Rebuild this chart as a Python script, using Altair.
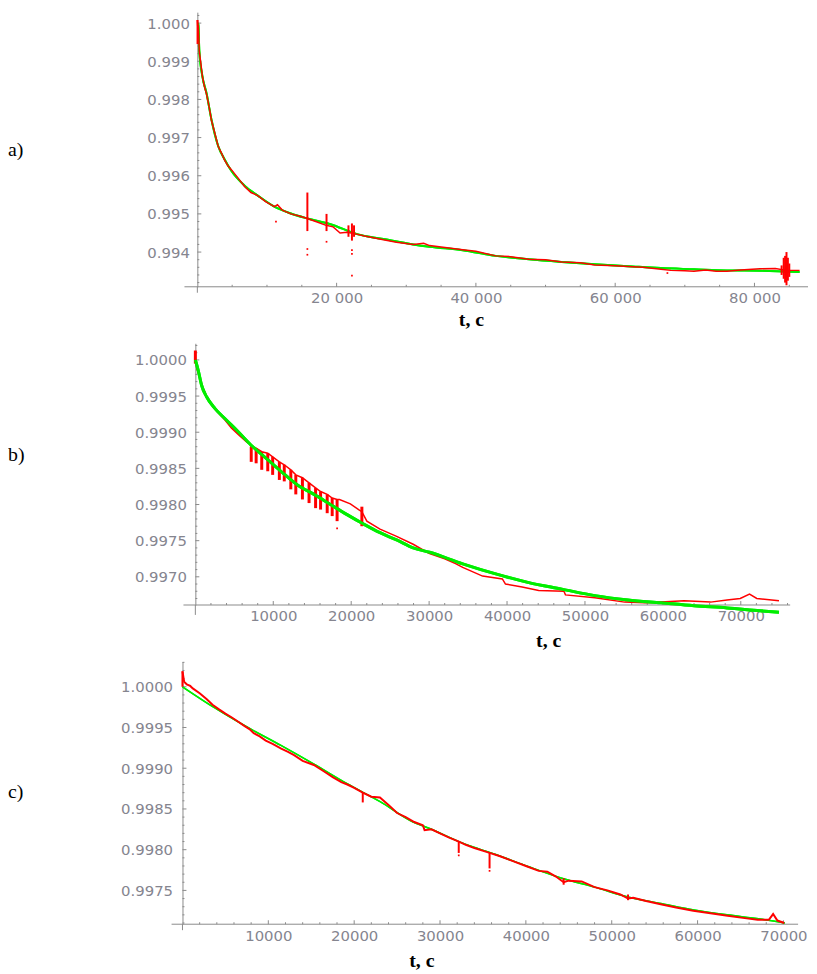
import altair as alt
import pandas as pd

# ------------------------------------------------------------------ panel a)
a_green_t = [0, 140, 285, 710, 1320, 2040, 2990, 3940, 4880, 6780, 8680, 11060, 13430, 15800,
             19120, 22920, 26720, 30990, 33350, 38100, 42850, 47590, 52340, 57080, 61830,
             66570, 71320, 76060, 80800, 86480]
a_green_v = [1.00000, 0.99997, 0.99928, 0.99862, 0.99816, 0.99746, 0.99678, 0.99642, 0.99613,
             0.99574, 0.99548, 0.99519, 0.99501, 0.99488, 0.99473, 0.99447, 0.99434, 0.99420,
             0.99414, 0.99405, 0.99390, 0.99381, 0.99374, 0.99368, 0.99363, 0.99358, 0.99355,
             0.99352, 0.99351, 0.99348]
a_red_t = [0, 60, 140, 280, 500, 710, 1000, 1320, 1700, 2040, 2500, 2990, 3500, 3940, 4400, 4880,
           5800, 6780, 7700, 8680, 9800, 11060, 11500, 12200, 13430, 14500, 15800, 17000, 18500,
           19500, 20500, 21500, 22900, 24000, 26720, 28600, 31000, 32500, 33350, 35000, 38100,
           40000, 42850, 45000, 47590, 50000, 52340, 55000, 57080, 60000, 61830, 64000, 66570,
           68000, 70000, 71320, 73000, 74500, 76060, 78000, 80800, 83000, 84600, 86480]
a_red_v = [1.00008, 0.99990, 0.99995, 0.99925, 0.99895, 0.99862, 0.99835, 0.99814, 0.99780,
           0.99744, 0.99712, 0.99677, 0.99658, 0.99640, 0.99626, 0.99616, 0.99595, 0.99572,
           0.99556, 0.99548, 0.99532, 0.99519, 0.99524, 0.99510, 0.99500, 0.99495, 0.99488,
           0.99480, 0.99470, 0.99466, 0.99450, 0.99452, 0.99447, 0.99442, 0.99432, 0.99426,
           0.99420, 0.99423, 0.99417, 0.99413, 0.99406, 0.99402, 0.99390, 0.99388, 0.99381,
           0.99380, 0.99374, 0.99372, 0.99366, 0.99364, 0.99362, 0.99360, 0.99355, 0.99352,
           0.99351, 0.99350, 0.99353, 0.99350, 0.99350, 0.99353, 0.99356, 0.99357, 0.99352,
           0.99352]
a_spike_t = [30, 15800, 18550, 21700, 22200, 22500, 83900, 84200, 84400, 84600, 84800, 85000]
a_spike_hi = [1.00008, 0.99556, 0.99500, 0.99470, 0.99475, 0.99470, 0.99365, 0.99385, 0.99390,
              0.99400, 0.99385, 0.99370]
a_spike_lo = [0.99945, 0.99455, 0.99455, 0.99440, 0.99430, 0.99440, 0.99340, 0.99330, 0.99320,
              0.99313, 0.99325, 0.99335]
a_dot_t = [11290, 15800, 15800, 18550, 22200, 22200, 22200, 67500]
a_dot_v = [0.99480, 0.99408, 0.99393, 0.99427, 0.99405, 0.99395, 0.99338, 0.99345]

# ------------------------------------------------------------------ panel b)
b_green_t = [0, 380, 800, 1440, 2500, 3780, 5470, 7160, 8870, 10980, 13100, 15230, 17340,
             19470, 21590, 23700, 25830, 27950, 30060, 34310, 38550, 42790, 47030, 51270,
             55510, 59760, 64000, 68230, 72480, 74900]
b_green_v = [1.00000, 0.99985, 0.99965, 0.99949, 0.99933, 0.99919, 0.99901, 0.99882, 0.99866,
             0.99846, 0.99827, 0.99814, 0.99800, 0.99786, 0.99773, 0.99761, 0.99751, 0.99740,
             0.99734, 0.99718, 0.99704, 0.99692, 0.99683, 0.99674, 0.99668, 0.99664, 0.99660,
             0.99657, 0.99653, 0.99651]
b_red_t = [0, 200, 500, 900, 1500, 2500, 3800, 4620, 5500, 6530, 7000,
           7170, 7800, 8520, 9290, 9920, 10780, 11410, 12250, 12890, 13740, 14590, 15430,
           16070, 16920, 17560, 18190,
           18500, 19890, 20950, 21370, 22010, 23700, 25830, 27950, 30060, 32000, 33460, 34310,
           36860, 39400, 39800, 41940, 44060, 47300, 47500, 51270, 55090, 57630, 59760, 62720,
           66120, 68230, 69930, 71120, 72050, 74900]
b_red_v = [1.00002, 0.99988, 0.99978, 0.99963, 0.99948, 0.99932, 0.99917, 0.99906, 0.99897,
           0.99887, 0.99884,
           0.99880, 0.99878, 0.99873, 0.99871, 0.99866, 0.99859, 0.99855, 0.99848, 0.99841,
           0.99837, 0.99830, 0.99823, 0.99818, 0.99814, 0.99809, 0.99807,
           0.99807, 0.99801, 0.99793, 0.99790, 0.99777, 0.99766, 0.99756, 0.99745, 0.99732,
           0.99725, 0.99718, 0.99713, 0.99701, 0.99697, 0.99690, 0.99686, 0.99681, 0.99680,
           0.99675, 0.99671, 0.99665, 0.99664, 0.99665, 0.99667, 0.99665, 0.99668, 0.99670,
           0.99676, 0.99670, 0.99667]
b_spike_t = [0, 7170, 7800, 8520, 9290, 9920, 10780, 11410, 12250, 12890, 13740, 14590, 15430,
             16070, 16920, 17560, 18190, 21370]
b_spike_hi = [1.00013, 0.99880, 0.99878, 0.99873, 0.99871, 0.99866, 0.99859, 0.99855, 0.99848,
              0.99841, 0.99837, 0.99830, 0.99823, 0.99818, 0.99814, 0.99809, 0.99807, 0.99797]
b_spike_lo = [0.99995, 0.99859, 0.99857, 0.99848, 0.99846, 0.99841, 0.99834, 0.99832, 0.99821,
              0.99814, 0.99807, 0.99802, 0.99795, 0.99793, 0.99788, 0.99784, 0.99777, 0.99770]
b_dot_t = [18190]
b_dot_v = [0.99767]

# ------------------------------------------------------------------ panel c)
c_green_t = [0, 3770, 7620, 11470, 15320, 19170, 23020, 26870, 28790, 32640, 36490, 40330,
             44180, 48040, 51880, 55730, 59580, 63430, 67280, 70170]
c_green_v = [1.00000, 0.99974, 0.99950, 0.99928, 0.99905, 0.99881, 0.99859, 0.99834, 0.99826,
             0.99808, 0.99794, 0.99779, 0.99765, 0.99754, 0.99742, 0.99734, 0.99726, 0.99720,
             0.99715, 0.99710]
c_red_t = [0, 200, 500, 900, 1200, 2000, 2800, 3500, 4300, 5000, 5800, 6500, 7200, 7800, 8300,
           9000, 9700, 10500, 11500, 12300, 13000, 14000, 15300, 16500, 17500, 18500, 19200,
           20000, 21000, 22000, 23000, 24000, 25000, 26000, 27000, 28000, 28200, 29000, 30000,
           31000, 32200, 33000, 34000, 35500, 37000, 38500, 40000, 41500, 42500, 43500, 44400,
           45000, 46500, 48000, 49500, 51000, 51900, 52500, 54000, 55700, 57500, 59500, 61500,
           63500, 65500, 67000, 68300, 68800, 69300, 70100]
c_red_v = [1.00019, 1.00006, 1.00003, 1.00001, 0.99998, 0.99992, 0.99985, 0.99978, 0.99972,
           0.99967, 0.99962, 0.99957, 0.99952, 0.99948, 0.99943, 0.99939, 0.99934, 0.99930,
           0.99924, 0.99920, 0.99916, 0.99909, 0.99904, 0.99896, 0.99889, 0.99883, 0.99880,
           0.99876, 0.99870, 0.99865, 0.99864, 0.99855, 0.99845, 0.99840, 0.99834, 0.99830,
           0.99824, 0.99825, 0.99820, 0.99815, 0.99810, 0.99806, 0.99802, 0.99797, 0.99792,
           0.99786, 0.99780, 0.99774, 0.99773, 0.99767, 0.99760, 0.99762, 0.99761, 0.99754,
           0.99750, 0.99745, 0.99740, 0.99741, 0.99737, 0.99733, 0.99729, 0.99725, 0.99722,
           0.99719, 0.99716, 0.99714, 0.99714, 0.99721, 0.99713, 0.99710]
c_spike_t = [0, 21000, 32180, 35770, 44400, 51900]
c_spike_hi = [1.00019, 0.99870, 0.99810, 0.99797, 0.99765, 0.99745]
c_spike_lo = [1.00000, 0.99858, 0.99796, 0.99777, 0.99757, 0.99738]
c_dot_t = [32180, 35770]
c_dot_v = [0.99793, 0.99774]

# ------------------------------------------------------------------ axes
a_xticks = [20000, 40000, 60000, 80000]
a_xlabels = ["20 000", "40 000", "60 000", "80 000"]
a_yticks = [0.994, 0.995, 0.996, 0.997, 0.998, 0.999, 1.000]
b_xticks = [10000, 20000, 30000, 40000, 50000, 60000, 70000]
b_xlabels = ["10000", "20000", "30000", "40000", "50000", "60000", "70000"]
b_yticks = [0.9970, 0.9975, 0.9980, 0.9985, 0.9990, 0.9995, 1.0000]
c_xticks = [10000, 20000, 30000, 40000, 50000, 60000, 70000]
c_xlabels = ["10000", "20000", "30000", "40000", "50000", "60000", "70000"]
c_yticks = [0.9975, 0.9980, 0.9985, 0.9990, 0.9995, 1.0000]

AXC = "#8a8a8a"
LABC = "#85858f"
RED = "#ff0000"
GREEN = "#00ee00"


def minor(lo, hi, step, majors):
    out = []
    k = 0
    while lo + k * step <= hi + 1e-12:
        v = round(lo + k * step, 6)
        if all(abs(v - m) > 1e-9 for m in majors):
            out.append(v)
        k += 1
    return out


def panel(label, lab_y, W, H, xdom, ydom, gt, gv, rt, rv, st, shi, slo, dt, dv,
          xticks, xlabels, xminor, yticks, yminor, yfmt, xline, title_x, title_y,
          ylabpad, gw, rw, green_top, below, sw):
    xs = alt.Scale(domain=xdom, nice=False, zero=False)
    ys = alt.Scale(domain=ydom, nice=False, zero=False)
    px0 = W * (0 - xdom[0]) / (xdom[1] - xdom[0])
    expr = " : ".join(f"datum.value == {t} ? '{l}'" for t, l in zip(xticks, xlabels)) + " : ''"
    xaxis = alt.Axis(values=xticks, labelExpr=expr, domain=False, ticks=False, tickSize=0,
                     grid=False, labelPadding=4, labelFont="DejaVu Sans", labelFontSize=15,
                     labelColor=LABC, labelFlush=False, labelOverlap=False,
                     title="t, c", titleFont="Liberation Serif", titleFontSize=20,
                     titleFontWeight="bold", titleColor="black", titleX=title_x,
                     titleY=title_y, titleAlign="center", titleBaseline="middle")
    yaxis = alt.Axis(values=yticks, format=yfmt, domain=True, domainColor=AXC, domainWidth=1,
                     ticks=False, tickSize=0, grid=False, offset=-px0, labelPadding=ylabpad,
                     labelFont="DejaVu Sans", labelFontSize=15, labelColor=LABC,
                     labelFlush=False, labelOverlap=False, title=None)
    X = alt.X("t:Q", scale=xs, axis=xaxis)
    Y = alt.Y("v:Q", scale=ys, axis=yaxis)

    green = alt.Chart(pd.DataFrame({"t": gt, "v": gv})).mark_line(
        color=GREEN, strokeWidth=gw, interpolate="monotone").encode(x=X, y=Y)
    red = alt.Chart(pd.DataFrame({"t": rt, "v": rv})).mark_line(
        color=RED, strokeWidth=rw).encode(x=X, y=Y)
    spikes = alt.Chart(pd.DataFrame({"t": st, "v": shi, "v2": slo})).mark_rule(
        color=RED, strokeWidth=sw).encode(x=X, y=Y, y2="v2:Q")
    dots = alt.Chart(pd.DataFrame({"t": dt, "v": dv})).mark_square(
        color=RED, size=3, opacity=1).encode(x=X, y=Y)

    xline_df = pd.DataFrame({"t": [xline[0]], "t2": [xline[1]]})
    xaxis_line = alt.Chart(xline_df).mark_rule(color=AXC, strokeWidth=1).encode(
        x=X, x2="t2:Q", y=alt.value(H))
    ext = alt.Chart(pd.DataFrame({"k": [0]})).mark_rule(color=AXC, strokeWidth=1).encode(
        x=alt.value(px0), y=alt.value(H), y2=alt.value(H + below))
    xt_major = alt.Chart(pd.DataFrame({"t": xticks})).mark_rule(color=AXC).encode(
        x=X, y=alt.value(H), y2=alt.value(H - 4))
    xt_minor = alt.Chart(pd.DataFrame({"t": xminor})).mark_rule(color=AXC).encode(
        x=X, y=alt.value(H), y2=alt.value(H - 2))
    yt_major = alt.Chart(pd.DataFrame({"v": yticks})).mark_rule(color=AXC).encode(
        y=Y, x=alt.value(px0), x2=alt.value(px0 + 4))
    yt_minor = alt.Chart(pd.DataFrame({"v": yminor})).mark_rule(color=AXC).encode(
        y=Y, x=alt.value(px0), x2=alt.value(px0 + 2))
    lab = alt.Chart(pd.DataFrame({"s": [label]})).mark_text(
        align="left", baseline="middle", font="Liberation Serif", fontSize=20,
        color="black").encode(text="s:N", x=alt.value(-165), y=alt.value(lab_y))

    data_layers = [spikes, dots, red, green] if green_top else [green, spikes, dots, red]
    return alt.layer(green, xaxis_line, ext, xt_major, xt_minor, yt_major, yt_minor,
                     *data_layers, lab).properties(width=W, height=H)


pa = panel("a)", 139, 642, 277, [-3701, 87690], [0.99309, 1.000286],
           a_green_t, a_green_v, a_red_t, a_red_v, a_spike_t, a_spike_hi, a_spike_lo,
           a_dot_t, a_dot_v, a_xticks, a_xlabels, minor(5000, 85000, 5000, a_xticks),
           a_yticks, minor(0.9932, 1.0002, 0.0002, a_yticks), ".3f",
           (-1850, 87690), 302, 33, 8, 2, 1.5, False, 6, 2)
pb = panel("b)", 113, 624, 264, [-3053, 76336], [0.99661, 1.00023],
           b_green_t, b_green_v, b_red_t, b_red_v, b_spike_t, b_spike_hi, b_spike_lo,
           b_dot_t, b_dot_v, b_xticks, b_xlabels, minor(2000, 76000, 2000, b_xticks),
           b_yticks, minor(0.9967, 1.0002, 0.0001, b_yticks), ".4f",
           (-1527, 76336), 380, 36, 9, 3, 1.5, True, 10, 3)
pc = panel("c)", 132, 632, 265, [-1270, 71709], [0.997085, 1.00031],
           c_green_t, c_green_v, c_red_t, c_red_v, c_spike_t, c_spike_hi, c_spike_lo,
           c_dot_t, c_dot_v, c_xticks, c_xlabels, minor(2000, 70000, 2000, c_xticks),
           c_yticks, minor(0.9971, 1.0003, 0.0001, c_yticks), ".4f",
           (-1270, 71709), 252, 37, 10, 1.5, 2, False, 6, 2)

chart = alt.vconcat(pa, pb, pc, spacing=57, bounds="flush").properties(
    padding=0, background="white").configure_view(stroke=None)

chart.save("out.html", embed_options={"renderer": "svg", "actions": False})
